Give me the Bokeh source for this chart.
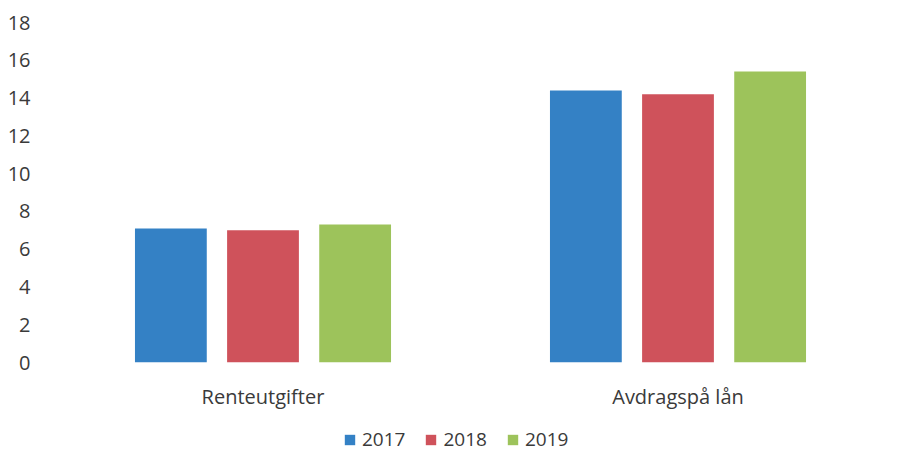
from bokeh.plotting import figure
from bokeh.layouts import column
from bokeh.models import FactorRange, Range1d, SingleIntervalTicker, Legend, LegendItem, ColumnDataSource
from bokeh.transform import dodge
from bokeh.embed import file_html
from bokeh.resources import INLINE

categories = ["Renteutgifter", "Avdragspå lån"]
years = ["2017", "2018", "2019"]
values_2017 = [7.1, 14.4]
values_2018 = [7.0, 14.2]
values_2019 = [7.3, 15.4]
colors = ["#3481C5", "#CF525B", "#9DC35B"]

src = ColumnDataSource(dict(cat=categories, y2017=values_2017, y2018=values_2018, y2019=values_2019))

p = figure(width=902, height=412, output_backend="svg", toolbar_location=None,
           x_range=FactorRange(factors=categories, range_padding=0),
           y_range=Range1d(0, 18),
           min_border_left=55, min_border_right=17, min_border_top=22, min_border_bottom=50)
p.outline_line_color = None
p.xgrid.grid_line_color = None
p.ygrid.grid_line_color = None

offsets = [-0.222, 0.0, 0.222]
for yr, col, off in zip(years, colors, offsets):
    p.vbar(x=dodge("cat", off, range=p.x_range), top="y" + yr, width=0.173,
           source=src, fill_color=col, line_color=None)

font = "Open Sans"
txt = "#3a3a3a"
for ax in (p.xaxis[0], p.yaxis[0]):
    ax.axis_line_color = None
    ax.major_tick_line_color = None
    ax.minor_tick_line_color = None
    ax.major_tick_out = 0
    ax.major_tick_in = 0
    ax.major_label_text_font = font
    ax.major_label_text_font_size = "20px"
    ax.major_label_text_color = txt
p.yaxis[0].ticker = SingleIntervalTicker(interval=2)
p.yaxis[0].major_label_standoff = 21
p.xaxis[0].major_label_standoff = 20

# legend strip below the chart (its frame is aligned with the chart's frame by the column layout)
lg = figure(width=902, height=40, output_backend="svg", toolbar_location=None,
            x_range=Range1d(0, 1), y_range=Range1d(0, 1),
            min_border_left=0, min_border_right=0, min_border_top=0, min_border_bottom=0)
lg.axis.visible = False
lg.grid.visible = False
lg.outline_line_color = None
lg_renderers = [lg.vbar(x=[-10], top=[-10], width=0.1, fill_color=c, line_color=None) for c in colors]

legend = Legend(items=[LegendItem(label=yr, renderers=[r]) for yr, r in zip(years, lg_renderers)],
                orientation="horizontal", location=(288, 0),
                border_line_color=None, background_fill_alpha=0,
                padding=0, margin=0, spacing=19, glyph_width=13, glyph_height=13,
                label_standoff=6, label_text_font=font, label_text_font_size="19px",
                label_text_color=txt)
lg.add_layout(legend, "center")

layout = column(p, lg, spacing=0)
open("out.html", "w").write(file_html(layout, INLINE))
